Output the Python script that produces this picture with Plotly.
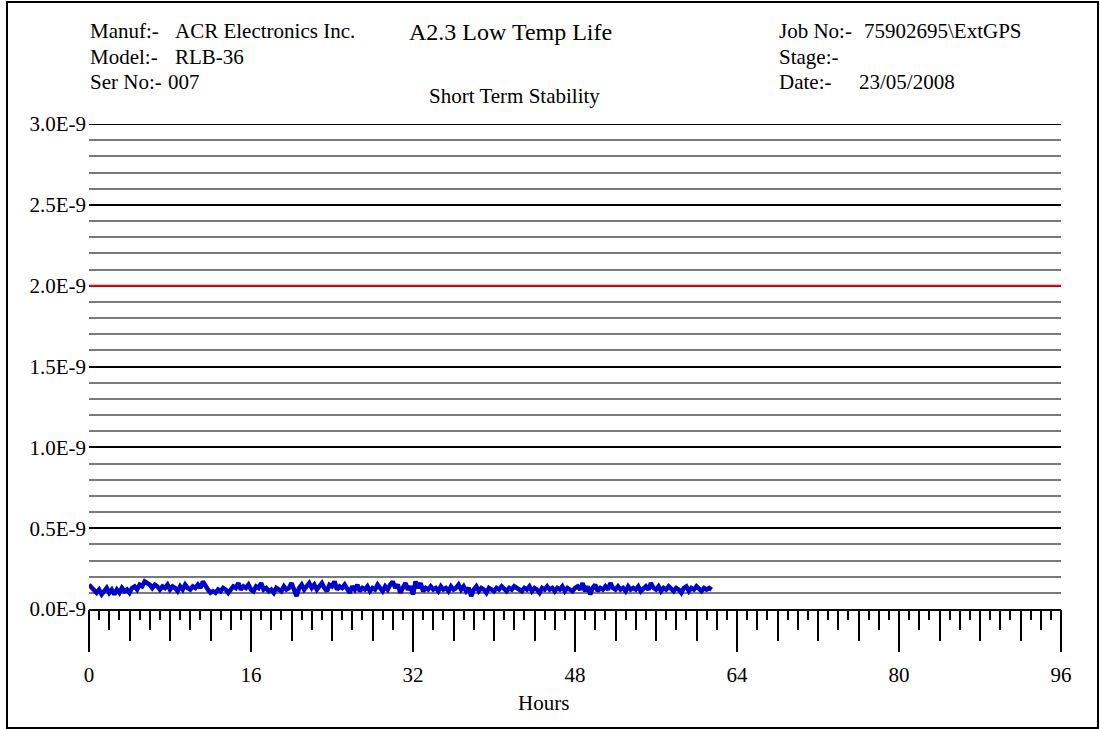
import plotly.graph_objects as go

# ---- data ----
hours = [i * 0.25 for i in range(247)]
stability_e9 = [
    0.15, 0.13, 0.11, 0.10, 0.12, 0.09, 0.11, 0.13, 0.10, 0.12,
    0.09, 0.12, 0.10, 0.13, 0.11, 0.12, 0.10, 0.13, 0.14, 0.12,
    0.15, 0.14, 0.17, 0.16, 0.15, 0.13, 0.15, 0.14, 0.12, 0.14,
    0.13, 0.15, 0.12, 0.14, 0.13, 0.11, 0.14, 0.12, 0.15, 0.13,
    0.12, 0.14, 0.13, 0.15, 0.13, 0.17, 0.14, 0.12, 0.10, 0.11,
    0.10, 0.12, 0.11, 0.13, 0.12, 0.10, 0.12, 0.14, 0.13, 0.16,
    0.12, 0.14, 0.13, 0.15, 0.12, 0.11, 0.14, 0.13, 0.16, 0.12,
    0.13, 0.11, 0.12, 0.10, 0.13, 0.12, 0.11, 0.14, 0.12, 0.13,
    0.16, 0.12, 0.08, 0.13, 0.15, 0.12, 0.14, 0.16, 0.13, 0.15,
    0.12, 0.14, 0.16, 0.13, 0.11, 0.15, 0.14, 0.17, 0.12, 0.14,
    0.13, 0.15, 0.12, 0.10, 0.14, 0.12, 0.15, 0.11, 0.13, 0.12,
    0.14, 0.11, 0.13, 0.12, 0.15, 0.13, 0.11, 0.14, 0.12, 0.15,
    0.17, 0.13, 0.15, 0.10, 0.13, 0.16, 0.12, 0.14, 0.09, 0.17,
    0.13, 0.16, 0.11, 0.13, 0.12, 0.14, 0.12, 0.13, 0.11, 0.14,
    0.12, 0.13, 0.11, 0.14, 0.12, 0.13, 0.15, 0.12, 0.14, 0.11,
    0.13, 0.08, 0.12, 0.14, 0.11, 0.13, 0.12, 0.10, 0.13, 0.12,
    0.11, 0.13, 0.12, 0.14, 0.12, 0.11, 0.13, 0.12, 0.14, 0.13,
    0.12, 0.11, 0.13, 0.12, 0.14, 0.11, 0.13, 0.12, 0.10, 0.13,
    0.12, 0.14, 0.12, 0.13, 0.11, 0.13, 0.12, 0.14, 0.11, 0.13,
    0.12, 0.11, 0.13, 0.14, 0.12, 0.16, 0.11, 0.14, 0.09, 0.13,
    0.15, 0.11, 0.13, 0.12, 0.14, 0.12, 0.16, 0.13, 0.12, 0.14,
    0.12, 0.13, 0.11, 0.14, 0.12, 0.13, 0.12, 0.14, 0.11, 0.13,
    0.14, 0.12, 0.16, 0.13, 0.12, 0.14, 0.11, 0.13, 0.12, 0.14,
    0.12, 0.11, 0.13, 0.12, 0.10, 0.13, 0.14, 0.11, 0.13, 0.12,
    0.14, 0.12, 0.11, 0.13, 0.12, 0.13, 0.12,
]
stability = [v * 1e-9 for v in stability_e9]

y_tick_vals = [0.0, 0.5e-9, 1.0e-9, 1.5e-9, 2.0e-9, 2.5e-9, 3.0e-9]
y_tick_text = ["0.0E-9", "0.5E-9", "1.0E-9", "1.5E-9", "2.0E-9", "2.5E-9", "3.0E-9"]
x_tick_vals = [0, 16, 32, 48, 64, 80, 96]
limit_value = 2.0e-9
y_top = 3.0e-9

FONT = "Liberation Serif, Times New Roman, serif"

# plot area in pixels
L, R, T, B = 89, 1061, 124, 609
def px(x):
    return (x - L) / (R - L)
def py(y):
    return (B - y) / (B - T)

fig = go.Figure()
fig.add_trace(go.Scatter(x=hours, y=stability, mode="lines",
                         line=dict(color="#0000C8", width=4.5), showlegend=False,
                         hoverinfo="skip"))
# invisible trace on second x axis for extra tick layers
fig.add_trace(go.Scatter(x=[0, 96], y=[None, None], xaxis="x2", showlegend=False,
                         hoverinfo="skip"))

fig.update_layout(
    width=1100, height=729,
    margin=dict(l=L, r=1100 - R, t=T, b=729 - B),
    paper_bgcolor="white", plot_bgcolor="white",
    font=dict(family=FONT, size=21, color="black"),
    xaxis=dict(range=[0, 96], tickmode="array", tickvals=x_tick_vals,
               ticks="outside", ticklen=41, tickwidth=1.5, tickcolor="black",
               showline=True, linecolor="black", linewidth=2,
               showgrid=False, zeroline=False,
               ticklabelstandoff=5,
               minor=dict(dtick=4, tick0=0, ticks="outside", ticklen=30,
                          tickwidth=1.5, tickcolor="black", showgrid=False)),
    xaxis2=dict(range=[0, 96], overlaying="x", anchor="y", side="bottom",
                tickmode="linear", dtick=2, tick0=0,
                ticks="outside", ticklen=20, tickwidth=1.5, tickcolor="black",
                showticklabels=False, showgrid=False, zeroline=False,
                minor=dict(dtick=1, tick0=0, ticks="outside", ticklen=10,
                           tickwidth=1.5, tickcolor="black", showgrid=False)),
    yaxis=dict(range=[0, y_top], tickmode="array", tickvals=y_tick_vals,
               ticktext=y_tick_text, ticks="", showline=False, zeroline=False,
               showgrid=True, gridcolor="black", gridwidth=1.6,
               ticklabelstandoff=2,
               minor=dict(tickmode="linear", tick0=0, dtick=0.1e-9,
                          showgrid=True, gridcolor="#7a7a7a", gridwidth=1.5,
                          ticks="")),
)

# top major gridline (at the plot edge)
fig.add_shape(type="line", xref="paper", yref="y", x0=0, x1=1,
              y0=y_top, y1=y_top, line=dict(color="black", width=2),
              layer="above")
# limit line
fig.add_shape(type="line", xref="paper", yref="y", x0=0, x1=1,
              y0=limit_value, y1=limit_value, line=dict(color="#FF0000", width=2),
              layer="above")

# outer frame
fig.add_shape(type="rect", xref="paper", yref="paper",
              x0=px(7), x1=px(1098), y0=py(728), y1=py(2),
              line=dict(color="black", width=2), fillcolor="rgba(0,0,0,0)")

def txt(x, y, s, size=21, anchor="left"):
    fig.add_annotation(xref="paper", yref="paper", x=px(x), y=py(y), text=s,
                       showarrow=False, xanchor=anchor, yanchor="middle",
                       font=dict(family=FONT, size=size, color="black"))

txt(88, 31, "Manuf:-")
txt(173, 31, "ACR Electronics Inc.")
txt(88, 57, "Model:-")
txt(173, 57, "RLB-36")
txt(88, 82, "Ser No:-")
txt(166, 82, "007")
txt(407, 32, "A2.3 Low Temp Life", size=24)
txt(427, 96, "Short Term Stability")
txt(777, 31, "Job No:-")
txt(862, 31, "75902695\\ExtGPS")
txt(777, 57, "Stage:-")
txt(777, 82, "Date:-")
txt(857, 82, "23/05/2008")
txt(543, 703, "Hours", anchor="center")

fig.write_html("out.html")
